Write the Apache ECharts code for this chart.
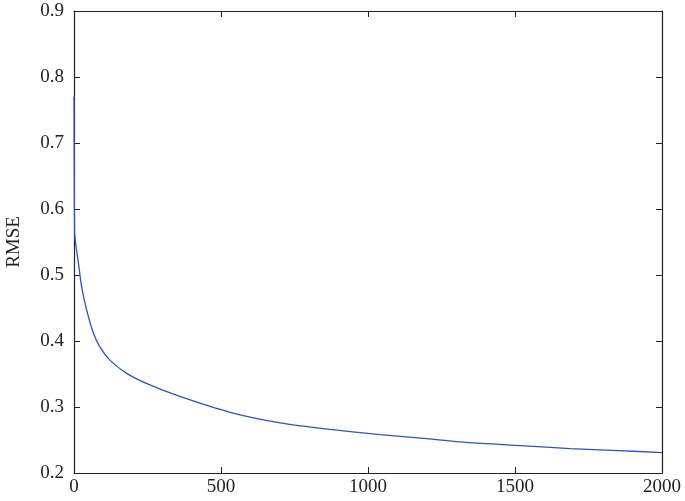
<!DOCTYPE html>
<html>
<head>
<meta charset="utf-8">
<script src="https://cdn.jsdelivr.net/npm/echarts@6/dist/echarts.min.js"></script>
<style>
  html, body { margin: 0; padding: 0; background: #fff; }
  #chart { width: 685px; height: 501px; }
</style>
</head>
<body>
<div id="chart"></div>
<script>
// values
const iterations = [0, 1, 2, 5, 15, 26, 43, 66, 88, 122, 179, 250, 360, 531, 701, 871, 1041, 1200, 1347, 1500, 1687, 1850, 2000];
const rmse = [0.77, 0.64, 0.565, 0.55, 0.518, 0.482, 0.447, 0.412, 0.391, 0.371, 0.351, 0.335, 0.316, 0.292, 0.276, 0.266, 0.258, 0.252, 0.246, 0.242, 0.237, 0.234, 0.231];
const xTicks = [0, 500, 1000, 1500, 2000];
const yTicks = [0.2, 0.3, 0.4, 0.5, 0.6, 0.7, 0.8, 0.9];

const font = '"Liberation Serif", "DejaVu Serif", serif';
const axisColor = '#222';

const myChart = echarts.init(document.getElementById('chart'));

const boxAxis = (extra) => Object.assign({
  type: 'value',
  axisLine: { show: true, onZero: false, lineStyle: { color: axisColor, width: 1.2 } },
  axisTick: { show: true, inside: true, length: 6, lineStyle: { color: axisColor } },
  splitLine: { show: false },
  axisLabel: { show: false }
}, extra);

const option = {
  animation: false,
  grid: { left: 74, top: 11, right: 23, bottom: 28, containLabel: false, outerBoundsMode: 'none' },
  xAxis: [
    boxAxis({
      min: xTicks[0], max: xTicks[xTicks.length - 1], interval: 500,
      position: 'bottom',
      axisLabel: { show: true, color: axisColor, fontFamily: font, fontSize: 19, margin: 5,
        formatter: v => String(v) }
    }),
    boxAxis({ min: xTicks[0], max: xTicks[xTicks.length - 1], interval: 500, position: 'top' })
  ],
  yAxis: [
    boxAxis({
      min: yTicks[0], max: yTicks[yTicks.length - 1], interval: 0.1,
      position: 'left',
      name: 'RMSE', nameLocation: 'middle', nameGap: 50,
      nameTextStyle: { color: axisColor, fontFamily: font, fontSize: 19 },
      axisLabel: { show: true, color: axisColor, fontFamily: font, fontSize: 19, margin: 10,
        formatter: v => v.toFixed(1) }
    }),
    boxAxis({ min: yTicks[0], max: yTicks[yTicks.length - 1], interval: 0.1, position: 'right' })
  ],
  series: [{
    type: 'line',
    data: iterations.map((x, i) => [x, rmse[i]]),
    showSymbol: false,
    smooth: 0.2,
    lineStyle: { color: '#3550c0', width: 1.3 }
  }]
};
myChart.setOption(option);
</script>
</body>
</html>
